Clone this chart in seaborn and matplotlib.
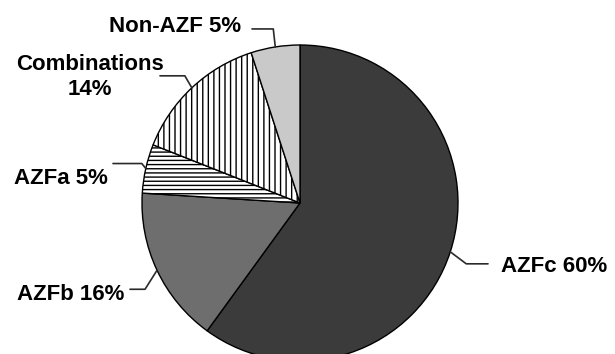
import numpy as np
import matplotlib
matplotlib.use("Agg")
import matplotlib.pyplot as plt
import seaborn as sns

# slices, clockwise from 12 o'clock
categories = ["AZFc", "AZFb", "AZFa", "Combinations", "Non-AZF"]
shares = [60, 16, 5, 14, 5]
label_text = ["AZFc 60%", "AZFb 16%", "AZFa 5%", "Combinations\n14%", "Non-AZF 5%"]

colors = ["#3b3b3b", "#6e6e6e", "white", "white", "#c9c9c9"]
hatches = [None, None, "----", "|||", None]

sns.set_style("white")
plt.rcParams["font.family"] = ["Liberation Sans", "DejaVu Sans"]
plt.rcParams["hatch.linewidth"] = 1.0

fig = plt.figure(figsize=(6.15, 3.54), dpi=100)
ax = fig.add_axes([0, 0, 1, 1])

# work in pixel-like units, y measured upwards
cx, cy, r = 300, 354 - 203, 158
wedges, _ = ax.pie(shares, colors=colors, startangle=90, counterclock=False,
                   center=(cx, cy), radius=r,
                   wedgeprops=dict(edgecolor="black", linewidth=1.0))
for w, h in zip(wedges, hatches):
    if h:
        w.set_hatch(h)

ax.set_xlim(0, 615)
ax.set_ylim(0, 354)
ax.set_aspect("equal")
ax.axis("off")

# label layout: (elbow offset from edge, end of horizontal run, text pos, ha)
layout = {
    "AZFc": ((16, -12), 488, (501, 354 - 267), "left"),
    "AZFb": ((-12, -19), 130, (124, 354 - 295), "right"),
    "AZFa": ((-4, 5), 113, (108, 354 - 178), "right"),
    "Combinations": ((-7, 12), 160, (90, 354 - 77), "center"),
    "Non-AZF": ((-2, 18), 252, (241, 354 - 26), "right"),
}

for w, cat, txt in zip(wedges, categories, label_text):
    mid = np.deg2rad((w.theta1 + w.theta2) / 2)
    ex, ey = cx + r * np.cos(mid), cy + r * np.sin(mid)
    (dx, dy), xend, (tx, ty), ha = layout[cat]
    kx, ky = ex + dx, ey + dy
    ax.plot([ex, kx, xend], [ey, ky, ky], color="#2a2a2a", lw=1.2)
    ax.text(tx, ty, txt, ha=ha, va="center", fontsize=16,
            fontweight="bold", linespacing=1.3, color="black")

fig.savefig("out.png", dpi=100)
